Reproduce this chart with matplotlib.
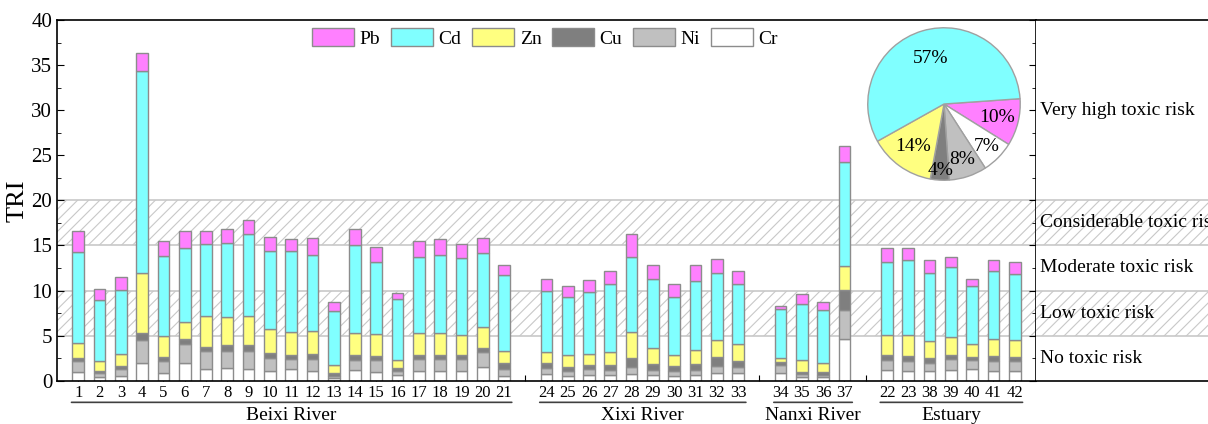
import matplotlib

matplotlib.use("Agg")

import matplotlib.pyplot as plt
import numpy as np
from matplotlib.patches import Patch

plt.rcParams["font.family"] = ["Liberation Serif", "DejaVu Serif"]
plt.rcParams["hatch.color"] = "#c8c8c8"
plt.rcParams["hatch.linewidth"] = 0.8

# station labels per river group
beixi = [str(i) for i in range(1, 22)]
xixi = [str(i) for i in range(24, 34)]
nanxi = ["34", "35", "36", "37"]
estuary = ["22", "23", "38", "39", "40", "41", "42"]
groups = ["Beixi River", "Xixi River", "Nanxi River", "Estuary"]

# contribution of each metal to TRI, same station order as above
cr = [1.0, 0.4, 0.55, 1.92, 0.89, 2.0, 1.26, 1.44, 1.26, 1.04, 1.26, 1.04, 0.3, 1.18, 0.96, 0.59, 1.04, 1.04, 1.04, 1.55, 0.52,
      0.74, 0.55, 0.67, 0.59, 0.74, 0.67, 0.55, 0.67, 0.89, 0.81,
      0.89, 0.44, 0.37, 4.66,
      1.18, 1.04, 1.04, 1.18, 1.29, 1.11, 1.11]
ni = [1.14, 0.5, 0.7, 2.58, 1.25, 2.07, 1.99, 1.89, 2.07, 1.51, 1.11, 1.4, 0.22, 1.11, 1.33, 0.52, 1.4, 1.33, 1.33, 1.63, 0.74,
      0.7, 0.49, 0.59, 0.59, 0.74, 0.51, 0.52, 0.51, 0.74, 0.67,
      0.88, 0.26, 0.26, 3.14,
      1.11, 1.18, 0.96, 1.19, 1.0, 1.11, 1.03]
cu = [0.36, 0.2, 0.38, 0.82, 0.45, 0.51, 0.52, 0.59, 0.59, 0.55, 0.44, 0.52, 0.29, 0.52, 0.45, 0.29, 0.44, 0.51, 0.44, 0.44, 0.74,
      0.48, 0.44, 0.44, 0.59, 1.0, 0.63, 0.52, 0.67, 1.03, 0.74,
      0.3, 0.26, 0.33, 2.29,
      0.52, 0.52, 0.51, 0.44, 0.37, 0.52, 0.45]
zn = [1.64, 1.1, 1.33, 6.66, 2.36, 1.89, 3.36, 3.1, 3.21, 2.59, 2.55, 2.51, 0.89, 2.51, 2.44, 0.89, 2.37, 2.37, 2.29, 2.29, 1.25,
      1.28, 1.33, 1.26, 1.37, 2.95, 1.78, 1.26, 1.59, 1.89, 1.81,
      0.48, 1.33, 1.04, 2.59,
      2.22, 2.29, 1.85, 2.03, 1.37, 1.84, 1.88]
cd = [10.09, 6.75, 7.1, 22.4, 8.91, 8.24, 8.06, 8.28, 9.1, 8.69, 9.06, 8.47, 6.06, 9.68, 7.94, 6.73, 8.5, 8.72, 8.47, 8.29, 8.43,
      6.78, 6.43, 6.91, 7.54, 8.25, 7.72, 6.47, 7.65, 7.35, 6.73,
      5.44, 6.25, 5.8, 11.57,
      8.13, 8.32, 7.58, 7.73, 6.47, 7.55, 7.4]
pb = [2.33, 1.25, 1.4, 2.0, 1.59, 1.89, 1.37, 1.52, 1.55, 1.59, 1.29, 1.92, 1.0, 1.86, 1.74, 0.67, 1.7, 1.7, 1.55, 1.59, 1.15,
      1.32, 1.3, 1.29, 1.52, 2.59, 1.56, 1.36, 1.7, 1.56, 1.37,
      0.25, 1.07, 0.96, 1.81,
      1.55, 1.36, 1.41, 1.15, 0.74, 1.25, 1.25]

# pie: mean share of each metal (%)
pie_names = ["Pb", "Cr", "Ni", "Cu", "Zn", "Cd"]
pie_pct = [10, 7, 8, 4, 14, 57]

# risk bands
band_edges = [0, 5, 10, 15, 20, 40]
band_names = ["No toxic risk", "Low toxic risk", "Moderate toxic risk", "Considerable toxic risk", "Very high toxic risk"]

colors = {"Pb": "#ff80ff", "Cd": "#80ffff", "Zn": "#ffff80", "Cu": "#7f7f7f", "Ni": "#c0c0c0", "Cr": "#ffffff"}
edge = "#8c8c8c"

# x positions: one empty slot between groups
group_labels = [beixi, xixi, nanxi, estuary]
pos = []
group_pos = []
x = 1
for labs in group_labels:
    p = list(range(x, x + len(labs)))
    pos += p
    group_pos.append(p)
    x += len(labs) + 1
pos = np.array(pos)
labels = sum(group_labels, [])

fig = plt.figure(figsize=(12.08, 4.24), dpi=100)
ax = fig.add_axes([57 / 1208, 1 - 380.7 / 424, (1036 - 57) / 1208, (380.7 - 20) / 424])
ax2 = fig.add_axes([1036 / 1208, 1 - 380.7 / 424, 0.16, (380.7 - 20) / 424])

for a in (ax, ax2):
    for i in (1, 3):
        a.axhspan(band_edges[i], band_edges[i + 1], facecolor="white", edgecolor="#c8c8c8", hatch="///", lw=0, zorder=0)
    for yv in band_edges[1:5]:
        a.axhline(yv, color="#c8c8c8", lw=1.2, zorder=0.5)
    a.set_ylim(0, 40)

bottom = np.zeros(len(pos))
for name, vals in [("Cr", cr), ("Ni", ni), ("Cu", cu), ("Zn", zn), ("Cd", cd), ("Pb", pb)]:
    vals = np.array(vals)
    ax.bar(pos, vals, 0.55, bottom=bottom, color=colors[name], edgecolor=edge, lw=1, zorder=2)
    bottom += vals

ax.set_xlim(0, 46)
ax.set_xticks(np.arange(1, 46))
ax.set_xticklabels([labels[list(pos).index(t)] if t in pos else "" for t in range(1, 46)], fontsize=12)
ax.set_yticks(np.arange(0, 41, 5))
ax.set_yticks(np.arange(0, 40, 2.5), minor=True)
ax.tick_params(axis="y", which="both", direction="in", right=True, labelsize=15)
ax.tick_params(axis="y", which="major", length=5)
ax.tick_params(axis="y", which="minor", length=3)
ax.tick_params(axis="x", direction="in", length=4, pad=3)
ax.set_ylabel("TRI", fontsize=19, labelpad=2)
for s in ax.spines.values():
    s.set_linewidth(1.2)

ax2.set_xlim(0, 1)
ax2.set_xticks([])
ax2.set_yticks([])
for s in ("left", "right"):
    ax2.spines[s].set_visible(False)
for s in ("top", "bottom"):
    ax2.spines[s].set_linewidth(1.2)
for i, name in enumerate(band_names):
    lo, hi = band_edges[i], band_edges[i + 1]
    yv = 30 if i == 4 else (lo + hi) / 2
    ax2.text(0.02, yv, name, fontsize=14, va="center", ha="left")

# river group underlines and names
for name, p in zip(groups, group_pos):
    x0, x1 = p[0] - 0.45, p[-1] + 0.5
    ax.annotate("", xy=(x0, -0.06), xytext=(x1, -0.06), xycoords=("data", "axes fraction"),
                arrowprops=dict(arrowstyle="-", color="#404040", lw=1.2))
    ax.text((p[0] + p[-1]) / 2, -0.072, name, transform=ax.get_xaxis_transform(),
            ha="center", va="top", fontsize=14)

handles = [Patch(facecolor=colors[n], edgecolor=edge, label=n) for n in ["Pb", "Cd", "Zn", "Cu", "Ni", "Cr"]]
fig.legend(handles=handles, loc="center", bbox_to_anchor=(545 / 1208, 1 - 38 / 424), ncol=6, frameon=False,
           fontsize=14, handlelength=2.15, handleheight=1.0, handletextpad=0.3, columnspacing=0.55)

pax = fig.add_axes([(944 - 77) / 1208, 1 - (104 + 77) / 424, 154 / 1208, 154 / 424])
wedges, _ = pax.pie(pie_pct, colors=[colors[n] for n in pie_names], startangle=4, counterclock=False,
                    wedgeprops=dict(edgecolor="#a0a0a0", lw=1))
label_r = [0.72, 0.79, 0.77, 0.88, 0.69, 0.62]
for w, pct, r in zip(wedges, pie_pct, label_r):
    ang = np.deg2rad((w.theta1 + w.theta2) / 2)
    pax.text(r * np.cos(ang), r * np.sin(ang), f"{pct}%", ha="center", va="center", fontsize=14)
pax.set_xlim(-1.01, 1.01)
pax.set_ylim(-1.01, 1.01)
pax.set_aspect("equal")

fig.savefig("out.png", dpi=100)
